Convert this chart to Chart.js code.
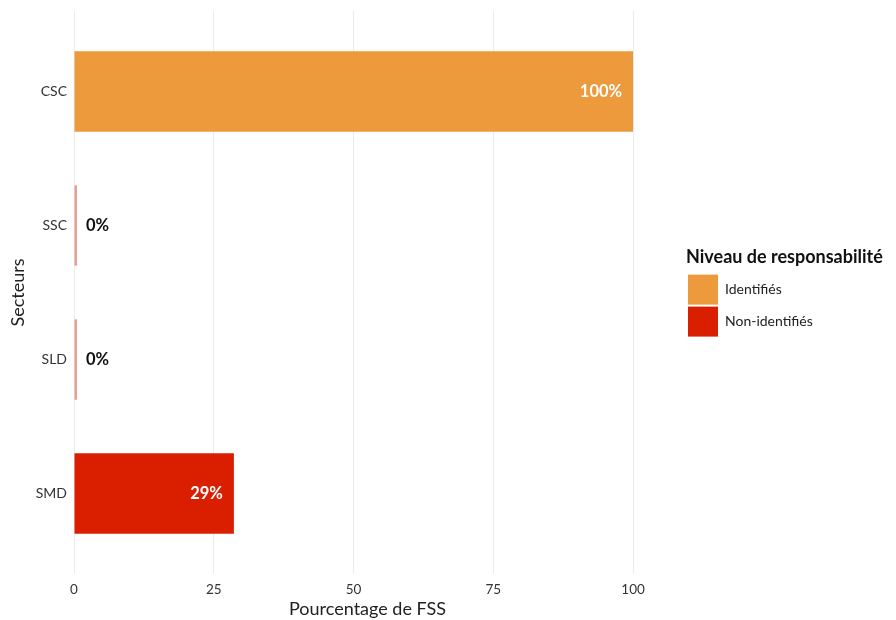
<!DOCTYPE html>
<html><head><meta charset="utf-8">
<script src="https://cdn.jsdelivr.net/npm/chart.js@4"></script>
<style>html,body{margin:0;padding:0;background:#fff}#wrap{width:896px;height:620px;position:relative}</style>
</head><body><div id="wrap"><canvas id="c"></canvas></div>
<script>
const categories = ['CSC', 'SSC', 'SLD', 'SMD'];
const identifies = [100, null, null, null];
const nonIdentifies = [null, 0, 0, 28.6];
const xTicks = [0, 25, 50, 75, 100];
const seriesNames = ['Identifiés', 'Non-identifiés'];
const legendTitle = 'Niveau de responsabilité';
const xTitle = 'Pourcentage de FSS';
const yTitle = 'Secteurs';

const ORANGE = 'rgb(236,154,59)';
const RED = 'rgb(218,30,0)';
const SALMON = 'rgb(228,160,145)';
const seriesColors = [ORANGE, RED];

function toPoints(arr) {
  const out = [];
  arr.forEach((v, i) => { if (v !== null) out.push({x: v, y: i}); });
  return out;
}

Chart.defaults.font.family = 'Lato';

const valueLabels = {
  id: 'valueLabels',
  afterDatasetsDraw(chart) {
    const ctx = chart.ctx;
    const x0 = chart.scales.x.getPixelForValue(0);
    chart.data.datasets.forEach((ds, di) => {
      const meta = chart.getDatasetMeta(di);
      meta.data.forEach((bar, i) => {
        const v = ds.data[i].x;
        const txt = Math.round(v) + '%';
        ctx.save();
        ctx.font = 'bold 16.5px Lato';
        ctx.textBaseline = 'middle';
        if (v > 0) {
          ctx.fillStyle = '#ffffff';
          ctx.textAlign = 'right';
          ctx.fillText(txt, bar.x - 11, bar.y);
        } else {
          ctx.fillStyle = '#111111';
          ctx.textAlign = 'left';
          ctx.fillText(txt, x0 + 12, bar.y);
        }
        ctx.restore();
      });
    });
  }
};

const legendWidth = {
  id: 'legendWidth',
  beforeLayout(chart) {
    const lg = chart.legend;
    if (lg && !lg._wPatched) {
      const origFit = lg.fit;
      lg.fit = function () { origFit.call(this); this.width = 210; };
      lg._wPatched = true;
    }
  }
};

new Chart(document.getElementById('c'), {
  type: 'bar',
  data: {
    datasets: [
      {
        label: seriesNames[0],
        data: toPoints(identifies),
        backgroundColor: ORANGE,
        borderWidth: 0,
        grouped: false,
        barPercentage: 0.6,
        categoryPercentage: 1
      },
      {
        label: seriesNames[1],
        data: toPoints(nonIdentifies),
        backgroundColor: (c) => (c.raw && c.raw.x === 0) ? SALMON : RED,
        borderWidth: 0,
        grouped: false,
        minBarLength: 3,
        barPercentage: 0.6,
        categoryPercentage: 1
      }
    ]
  },
  options: {
    indexAxis: 'y',
    responsive: true,
    maintainAspectRatio: false,
    animation: false,
    layout: {padding: {top: 11, right: 0, bottom: 0, left: 0}},
    scales: {
      x: {
        type: 'linear',
        offset: false,
        min: 0, max: 105,
        afterBuildTicks: (s) => { s.ticks = xTicks.map(v => ({value: v})); },
        ticks: {font: {size: 13.5}, color: '#333333', padding: 8},
        grid: {color: '#ebebeb', drawTicks: false, lineWidth: 1, offset: false},
        border: {display: false},
        title: {display: true, text: xTitle, font: {size: 18}, color: '#222222', padding: {top: 0, bottom: 0}},
        afterFit: (s) => { s.height = 46; s.paddingLeft = 0; s.paddingRight = 0; }
      },
      y: {
        type: 'linear',
        offset: false,
        min: -0.6, max: 3.6,
        reverse: true,
        afterBuildTicks: (s) => { s.ticks = categories.map((c, i) => ({value: i})); },
        ticks: {font: {size: 14}, color: '#333333', padding: 7, callback: (v) => categories[v] !== undefined ? categories[v] : ''},
        grid: {display: false, drawTicks: false, offset: false},
        border: {display: false},
        title: {display: true, text: yTitle, font: {size: 18}, color: '#222222', padding: {top: 7, bottom: 0}},
        afterFit: (s) => { s.width = 74; s.paddingTop = 0; s.paddingBottom = 0; }
      },
      yr: {
        type: 'linear',
        position: 'right',
        display: true,
        grid: {display: false, drawTicks: false},
        border: {display: false},
        ticks: {display: false},
        afterFit: (s) => { s.width = 25; s.paddingTop = 0; s.paddingBottom = 0; }
      }
    },
    plugins: {
      legend: {
        display: true,
        position: 'right',
        align: 'start',
        title: {display: true, text: legendTitle, font: {size: 18, weight: 'bold'}, color: '#111111', position: 'start', padding: {top: 237, bottom: 3}},
        labels: {
          boxWidth: 30, boxHeight: 30, padding: 2, font: {size: 14}, color: '#222222',
          generateLabels: (chart) => {
            const items = Chart.defaults.plugins.legend.labels.generateLabels(chart);
            items.forEach((it, i) => { it.fillStyle = seriesColors[i]; it.lineWidth = 0; it.strokeStyle = 'rgba(0,0,0,0)'; });
            return items;
          }
        }
      },
      tooltip: {enabled: false}
    }
  },
  plugins: [valueLabels, legendWidth]
});
</script>
</body></html>
